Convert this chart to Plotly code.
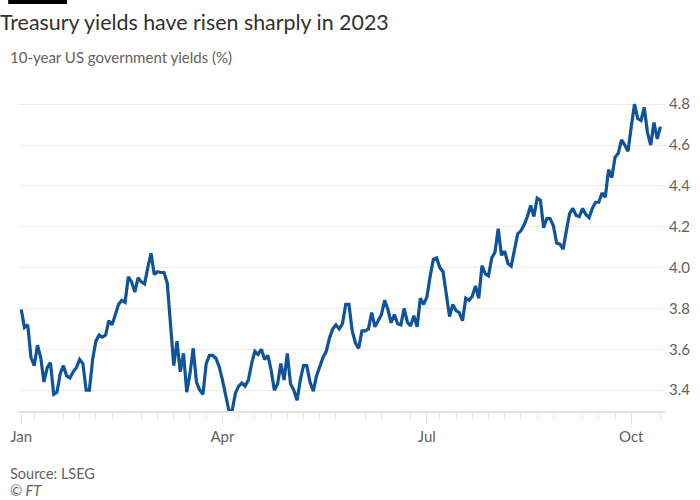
import plotly.graph_objects as go
import pandas as pd

# ---- data (trading days, 10-year US Treasury yield, %) ----
jan_days = [3, 4, 5, 6, 9, 10, 11, 12, 13, 17, 18, 19, 20, 23, 24, 25, 26, 27, 30, 31]
jan_vals = [3.795, 3.707, 3.72, 3.56, 3.52, 3.62, 3.56, 3.44, 3.51, 3.535, 3.38, 3.39, 3.48, 3.52, 3.47, 3.46, 3.49, 3.51, 3.55, 3.53]
feb_days = [1, 2, 3, 6, 7, 8, 9, 10, 13, 14, 15, 16, 17, 21, 22, 23, 24, 27, 28]
feb_vals = [3.40, 3.40, 3.55, 3.64, 3.67, 3.66, 3.67, 3.74, 3.72, 3.77, 3.82, 3.84, 3.83, 3.955, 3.93, 3.88, 3.95, 3.93, 3.92]
mar_days = [1, 2, 3, 6, 7, 8, 9, 10, 13, 14, 15, 16, 17, 20, 21, 22, 23, 24, 27, 28, 29, 30, 31]
mar_vals = [4.00, 4.07, 3.966, 3.98, 3.976, 3.976, 3.925, 3.72, 3.52, 3.64, 3.49, 3.58, 3.39, 3.48, 3.605, 3.44, 3.40, 3.38, 3.53, 3.57, 3.57, 3.556, 3.515]
apr_days = [3, 4, 5, 6, 7, 10, 11, 12, 13, 14, 17, 18, 19, 20, 21, 24, 25, 26, 27, 28]
apr_vals = [3.45, 3.37, 3.30, 3.30, 3.385, 3.42, 3.435, 3.42, 3.45, 3.53, 3.59, 3.575, 3.60, 3.55, 3.57, 3.50, 3.40, 3.43, 3.53, 3.45]
may_days = [1, 2, 3, 4, 5, 8, 9, 10, 11, 12, 15, 16, 17, 18, 19, 22, 23, 24, 25, 26, 30, 31]
may_vals = [3.58, 3.43, 3.40, 3.35, 3.45, 3.52, 3.52, 3.44, 3.395, 3.47, 3.515, 3.56, 3.59, 3.655, 3.70, 3.72, 3.70, 3.725, 3.82, 3.82, 3.69, 3.63]
jun_days = [1, 2, 5, 6, 7, 8, 9, 12, 13, 14, 15, 16, 20, 21, 22, 23, 26, 27, 28, 29, 30]
jun_vals = [3.605, 3.69, 3.69, 3.70, 3.78, 3.71, 3.74, 3.77, 3.84, 3.795, 3.73, 3.77, 3.725, 3.72, 3.80, 3.733, 3.714, 3.765, 3.71, 3.85, 3.82]
jul_days = [3, 5, 6, 7, 10, 11, 12, 13, 14, 17, 18, 19, 20, 21, 24, 25, 26, 27, 28, 31]
jul_vals = [3.855, 3.955, 4.04, 4.047, 4.00, 3.98, 3.855, 3.76, 3.82, 3.79, 3.78, 3.74, 3.85, 3.84, 3.86, 3.91, 3.85, 4.01, 3.97, 3.96]
aug_days = [1, 2, 3, 4, 7, 8, 9, 10, 11, 14, 15, 16, 17, 18, 21, 22, 23, 24, 25, 28, 29, 30, 31]
aug_vals = [4.047, 4.075, 4.19, 4.06, 4.08, 4.02, 4.007, 4.083, 4.165, 4.18, 4.21, 4.25, 4.305, 4.25, 4.34, 4.33, 4.195, 4.24, 4.24, 4.205, 4.12, 4.115, 4.09]
sep_days = [1, 5, 6, 7, 8, 11, 12, 13, 14, 15, 18, 19, 20, 21, 22, 25, 26, 27, 28, 29]
sep_vals = [4.18, 4.265, 4.29, 4.255, 4.25, 4.29, 4.26, 4.245, 4.29, 4.32, 4.32, 4.365, 4.345, 4.48, 4.44, 4.54, 4.56, 4.625, 4.60, 4.57]
oct_days = [2, 3, 4, 5, 6, 10, 11, 12, 13, 16]
oct_vals = [4.69, 4.80, 4.73, 4.72, 4.785, 4.66, 4.60, 4.71, 4.63, 4.69]

month_tick_labels = ["Jan", "Apr", "Jul", "Oct"]
y_ticks = [3.4, 3.6, 3.8, 4.0, 4.2, 4.4, 4.6, 4.8]

months = [(1, jan_days, jan_vals), (2, feb_days, feb_vals), (3, mar_days, mar_vals),
          (4, apr_days, apr_vals), (5, may_days, may_vals), (6, jun_days, jun_vals),
          (7, jul_days, jul_vals), (8, aug_days, aug_vals), (9, sep_days, sep_vals),
          (10, oct_days, oct_vals)]
dates, vals = [], []
for m, ds, vs in months:
    for d, v in zip(ds, vs):
        dates.append(pd.Timestamp(2023, m, d))
        vals.append(v)
idx = list(range(len(dates)))

# ticks: first trading day of Jan/Apr/Jul/Oct (labelled), Mondays (minor)
major_idx = []
for m in [1, 4, 7, 10]:
    major_idx.append(next(i for i, d in enumerate(dates) if d.month == m))
monday_idx = [i for i, d in enumerate(dates) if d.weekday() == 0 and i not in major_idx]

BLUE = "#0f5499"
GRID = "#f0ebe6"
AXIS = "#e8e2dc"
TXT = "#66605c"
FONT = "Lato, 'Noto Sans', sans-serif"

fig = go.Figure()
fig.add_trace(go.Scatter(x=idx, y=vals, mode="lines",
                         line=dict(color=BLUE, width=3.2), hoverinfo="skip"))

L, R, T, B = 10, 30, 94, 89
W, H = 700, 500
pw, ph = W - L - R, H - T - B

fig.update_layout(
    width=W, height=H,
    margin=dict(l=L, r=R, t=T, b=B),
    paper_bgcolor="white", plot_bgcolor="white",
    showlegend=False,
    font=dict(family=FONT, color=TXT),
    title=dict(text="Treasury yields have risen sharply in 2023",
               x=0, xref="container", xanchor="left",
               y=1 - 23 / H, yref="container", yanchor="middle",
               font=dict(size=21.4, color="#33302e", family=FONT)),
    xaxis=dict(range=[-1.0, 198.4], showgrid=False, zeroline=False,
               showline=True, linecolor=AXIS, linewidth=2,
               tickmode="array", tickvals=major_idx, ticktext=month_tick_labels,
               ticks="outside", ticklen=11, tickwidth=1, tickcolor=AXIS,
               tickfont=dict(size=15, color=TXT),
               minor=dict(tickmode="array", tickvals=monday_idx, ticks="outside",
                          ticklen=7, tickwidth=1, tickcolor=AXIS)),
    yaxis=dict(range=[3.298, 4.85], side="right", showgrid=True, gridcolor=GRID,
               gridwidth=1, zeroline=False, showline=False, ticks="",
               tickmode="array", tickvals=y_ticks, ticklabelstandoff=3,
               ticktext=[f"{v:.1f}" for v in y_ticks],
               tickfont=dict(size=15, color=TXT)),
)

def px_x(x):
    return (x - L) / pw

def px_y(y):
    return (H - B - y) / ph

fig.add_shape(type="rect", xref="paper", yref="paper",
              x0=px_x(0), x1=px_x(60), y0=px_y(4), y1=px_y(0),
              fillcolor="black", line=dict(width=0))

fig.add_annotation(text="10-year US government yields (%)", xref="paper", yref="paper",
                   x=px_x(0), y=px_y(57), xanchor="left", yanchor="middle",
                   showarrow=False, font=dict(size=15, color=TXT, family=FONT))
fig.add_annotation(text="Source: LSEG", xref="paper", yref="paper",
                   x=px_x(0), y=px_y(473), xanchor="left", yanchor="middle",
                   showarrow=False, font=dict(size=14.5, color=TXT, family=FONT))
fig.add_annotation(text="<i>© FT</i>", xref="paper", yref="paper",
                   x=px_x(0), y=px_y(490), xanchor="left", yanchor="middle",
                   showarrow=False, font=dict(size=14.5, color=TXT, family=FONT))

fig.write_html("out.html")
